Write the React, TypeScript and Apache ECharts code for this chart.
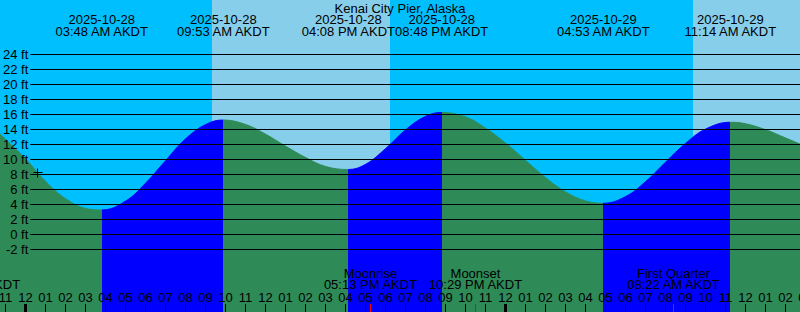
import React, { useEffect, useRef } from 'react';
import * as echarts from 'echarts';

// ---------- data (hours counted from 2025-10-28 00:00 AKDT) ----------
const chartTitle = 'Kenai City Pier, Alaska';

const tideExtremeHours = [3.8, 9.883, 16.133, 20.8, 28.883, 35.233];
const tideExtremeFeet = [3.2, 15.2, 8.6, 16.2, 4.1, 14.9];
const tideExtremeDates = ['2025-10-28', '2025-10-28', '2025-10-28', '2025-10-28', '2025-10-29', '2025-10-29'];
const tideExtremeTimes = ['03:48 AM AKDT', '09:53 AM AKDT', '04:08 PM AKDT', '08:48 PM AKDT', '04:53 AM AKDT', '11:14 AM AKDT'];

const tideHours = [-1.3, -1, 0, 1, 2, 3, 3.8, 5, 6, 7, 8, 9, 9.883, 11, 12, 13, 14, 15, 16.133, 17, 18, 19, 20, 20.8, 22, 23, 24, 25, 26, 27, 28, 28.883, 30, 31, 32, 33, 34, 35.233, 36, 37, 38, 38.8];
const tideFeet = [13.4, 12.6, 10.0, 7.0, 4.7, 3.4, 3.2, 4.4, 6.8, 9.8, 12.7, 14.6, 15.2, 14.6, 13.3, 11.7, 10.2, 9.0, 8.6, 9.3, 11.4, 13.9, 15.7, 16.2, 15.6, 14.1, 12.1, 9.8, 7.5, 5.6, 4.4, 4.1, 5.0, 7.0, 9.6, 12.1, 14.0, 14.9, 14.7, 13.9, 12.8, 11.9];

const sunriseHours = [9.315, 33.365];
const sunsetHours = [18.215, 42.2];

const moonEventHours = [-2.6, 17.217, 22.483, 32.367];
const moonEventNames = ['Moonset', 'Moonrise', 'Moonset', 'First Quarter'];
const moonEventTimes = ['09:24 PM AKDT', '05:13 PM AKDT', '10:29 PM AKDT', '08:22 AM AKDT'];

const nowHour = [0.59];
const nowFeet = [8.2];

const hourTicks = [-1, 0, 1, 2, 3, 4, 5, 6, 7, 8, 9, 10, 11, 12, 13, 14, 15, 16, 17, 18, 19, 20, 21, 22, 23, 24, 25, 26, 27, 28, 29, 30, 31, 32, 33, 34, 35, 36, 37, 38, 39];
const hourLabels = ['11', '12', '01', '02', '03', '04', '05', '06', '07', '08', '09', '10', '11', '12', '01', '02', '03', '04', '05', '06', '07', '08', '09', '10', '11', '12', '01', '02', '03', '04', '05', '06', '07', '08', '09', '10', '11', '12', '01', '02', '03'];
const midnightHours = [0, 24];

const feetTickMin = -2;
const feetTickMax = 24;
const feetTickStep = 2;

// ---------- layout / style ----------
const X_MIN = -1.285;
const X_MAX = 38.715;
const Y_MIN = -10.4;
const Y_MAX = 31.2;
const FONT = '"Liberation Sans", Arial, Helvetica, sans-serif';
const NIGHT = '#00BFFF';
const DAY = '#87CEEB';
const RISING = '#0000FF';
const FALLING = '#2E8B57';

function textEl(x: number, y: number, text: string, fill = '#000') {
  return {
    type: 'text',
    x,
    y,
    style: { text, fill, fontSize: 13, fontFamily: FONT, align: 'center', verticalAlign: 'middle' },
  };
}

export default function App() {
  const ref = useRef<HTMLDivElement>(null);

  useEffect(() => {
    if (!ref.current) return;
    const chart = echarts.init(ref.current, undefined, { renderer: 'svg' });

    const isHigh = tideExtremeFeet.map((f, i) =>
      i > 0 ? f > tideExtremeFeet[i - 1] : f > tideExtremeFeet[i + 1]
    );
    const pieces: any[] = [];
    tideExtremeHours.forEach((h, i) => {
      const piece: any = { lt: h, color: isHigh[i] ? RISING : FALLING };
      if (i > 0) piece.gte = tideExtremeHours[i - 1];
      pieces.push(piece);
    });
    const last = tideExtremeHours.length - 1;
    pieces.push({ gte: tideExtremeHours[last], color: isHigh[last] ? FALLING : RISING });

    const option: any = {
      animation: false,
      backgroundColor: NIGHT,
      graphic: [
        {
          type: 'text',
          x: 400,
          y: 8.8,
          z: 10,
          style: { text: chartTitle, fill: '#000', fontSize: 13, fontFamily: FONT, align: 'center', verticalAlign: 'middle' },
        },
      ],
      grid: [
        { left: 0, right: 0, top: 0, bottom: 0 },
        { left: 29, right: 0, top: 54, height: 195 },
      ],
      xAxis: [
        { type: 'value', gridIndex: 0, min: X_MIN, max: X_MAX, show: false },
        { type: 'value', gridIndex: 1, min: 0, max: 1, show: false },
      ],
      yAxis: [
        { type: 'value', gridIndex: 0, min: Y_MIN, max: Y_MAX, show: false },
        {
          type: 'value',
          gridIndex: 1,
          min: feetTickMin,
          max: feetTickMax,
          interval: feetTickStep,
          z: 3,
          axisLine: { show: false },
          axisTick: { show: false },
          splitLine: { show: true, lineStyle: { color: '#000', width: 1 } },
          axisLabel: {
            formatter: '{value} ft',
            color: '#000',
            fontSize: 13,
            fontFamily: FONT,
            margin: 2,
          },
        },
      ],
      visualMap: {
        type: 'piecewise',
        show: false,
        dimension: 0,
        seriesIndex: 1,
        pieces,
      },
      series: [
        {
          type: 'custom',
          xAxisIndex: 0,
          yAxisIndex: 0,
          z: 0,
          silent: true,
          data: sunriseHours.map((h, i) => [h, sunsetHours[i]]),
          renderItem: (params: any, api: any) => {
            const a = api.coord([api.value(0), Y_MAX]);
            const b = api.coord([api.value(1), Y_MIN]);
            return {
              type: 'rect',
              shape: { x: a[0], y: a[1], width: b[0] - a[0], height: b[1] - a[1] },
              style: { fill: DAY },
            };
          },
        },
        {
          type: 'line',
          xAxisIndex: 0,
          yAxisIndex: 0,
          z: 1,
          silent: true,
          smooth: 0.4,
          showSymbol: false,
          symbol: 'none',
          lineStyle: { width: 1 },
          areaStyle: { opacity: 1, origin: 'start' },
          data: tideHours.map((h, i) => [h, tideFeet[i]]),
        },
        {
          type: 'custom',
          xAxisIndex: 0,
          yAxisIndex: 0,
          z: 4,
          silent: true,
          data: tideExtremeHours.map((h, i) => [h, tideExtremeFeet[i]]),
          renderItem: (params: any, api: any) => {
            const i = params.dataIndex;
            const x = api.coord([api.value(0), 0])[0];
            return {
              type: 'group',
              children: [textEl(x, 19.5, tideExtremeDates[i]), textEl(x, 31.5, tideExtremeTimes[i])],
            };
          },
        },
        {
          type: 'custom',
          xAxisIndex: 0,
          yAxisIndex: 0,
          z: 4,
          silent: true,
          data: hourTicks.map((h) => [h, 0]),
          renderItem: (params: any, api: any) => {
            const i = params.dataIndex;
            const h = api.value(0);
            const x = Math.floor(api.coord([h, 0])[0]) + 0.5;
            const bottom = params.coordSys.y + params.coordSys.height;
            const thick = midnightHours.includes(h);
            return {
              type: 'group',
              children: [
                {
                  type: 'line',
                  shape: { x1: x, y1: bottom - 8, x2: x, y2: bottom },
                  style: { stroke: '#000', lineWidth: thick ? 3 : 1 },
                },
                textEl(x, bottom - 14.8, hourLabels[i]),
              ],
            };
          },
        },
        {
          type: 'custom',
          xAxisIndex: 0,
          yAxisIndex: 0,
          z: 4,
          silent: true,
          data: moonEventHours.map((h) => [h, 0]),
          renderItem: (params: any, api: any) => {
            const i = params.dataIndex;
            const x = Math.floor(api.coord([api.value(0), 0])[0]) + 0.5;
            const bottom = params.coordSys.y + params.coordSys.height;
            return {
              type: 'group',
              children: [
                {
                  type: 'line',
                  shape: { x1: x, y1: bottom - 8, x2: x, y2: bottom },
                  style: { stroke: '#FF0000', lineWidth: 1 },
                },
                textEl(x, bottom - 38.2, moonEventNames[i]),
                textEl(x, bottom - 27.2, moonEventTimes[i]),
              ],
            };
          },
        },
        {
          type: 'custom',
          xAxisIndex: 0,
          yAxisIndex: 0,
          z: 5,
          silent: true,
          data: nowHour.map((h, i) => [h, nowFeet[i]]),
          renderItem: (params: any, api: any) => {
            const p = api.coord([api.value(0), api.value(1)]);
            const x = Math.floor(p[0]) + 0.5;
            const y = Math.floor(p[1]) + 0.5;
            return {
              type: 'group',
              children: [
                { type: 'line', shape: { x1: x - 4, y1: y, x2: x + 5, y2: y }, style: { stroke: '#000', lineWidth: 1 } },
                { type: 'line', shape: { x1: x, y1: y - 4, x2: x, y2: y + 5 }, style: { stroke: '#000', lineWidth: 1 } },
              ],
            };
          },
        },
      ],
    };

    chart.setOption(option);
    return () => {
      chart.dispose();
    };
  }, []);

  return (
    <div
      ref={ref}
      style={{ position: 'fixed', left: 0, top: 0, width: 800, height: 312 }}
    />
  );
}
